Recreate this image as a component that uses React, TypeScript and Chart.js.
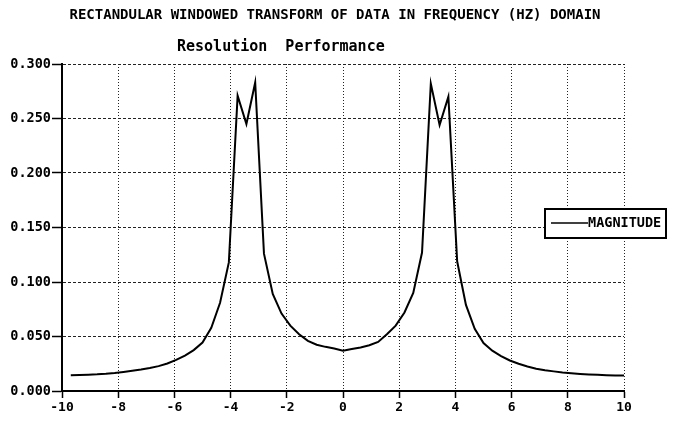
import React, { useEffect, useRef } from "react";
import { Chart, registerables } from "chart.js";

Chart.register(...registerables);

const chartTitle = "RECTANDULAR WINDOWED TRANSFORM OF DATA IN FREQUENCY (HZ) DOMAIN";
const chartSubtitle = "Resolution  Performance";
const seriesLabel = "MAGNITUDE";

const frequencies: number[] = [
  -9.6875, -9.375, -9.0625, -8.75, -8.4375, -8.125, -7.8125, -7.5, -7.1875, -6.875,
  -6.5625, -6.25, -5.9375, -5.625, -5.3125, -5, -4.6875, -4.375, -4.0625, -3.75,
  -3.4375, -3.125, -2.8125, -2.5, -2.1875, -1.875, -1.5625, -1.25, -0.9375, -0.625,
  -0.3125, 0, 0.3125, 0.625, 0.9375, 1.25, 1.5625, 1.875, 2.1875, 2.5,
  2.8125, 3.125, 3.4375, 3.75, 4.0625, 4.375, 4.6875, 5, 5.3125, 5.625,
  5.9375, 6.25, 6.5625, 6.875, 7.1875, 7.5, 7.8125, 8.125, 8.4375, 8.75,
  9.0625, 9.375, 9.6875, 10,
];

const magnitudes: number[] = [
  0.0145, 0.0147, 0.015, 0.0153, 0.0158, 0.0165, 0.0175, 0.0186, 0.0198, 0.0212,
  0.0228, 0.0252, 0.0285, 0.0325, 0.0375, 0.0445, 0.058, 0.081, 0.118, 0.271,
  0.245, 0.283, 0.126, 0.089, 0.071, 0.06, 0.052, 0.046, 0.0425, 0.0405,
  0.039, 0.037, 0.0385, 0.04, 0.042, 0.045, 0.052, 0.06, 0.072, 0.09,
  0.127, 0.282, 0.244, 0.27, 0.119, 0.079, 0.057, 0.044, 0.037, 0.032,
  0.028, 0.025, 0.0225, 0.0205, 0.019, 0.018, 0.017, 0.0163, 0.0157, 0.0152,
  0.0148, 0.0145, 0.0143, 0.0142,
];

const xTickValues: number[] = [-10, -8, -6, -4, -2, 0, 2, 4, 6, 8, 10];
const yTickValues: number[] = [0, 0.05, 0.1, 0.15, 0.2, 0.25, 0.3];
const yTickLabels: string[] = ["0.000", "0.050", "0.100", "0.150", "0.200", "0.250", "0.300"];

const MONO = "'DejaVu Sans Mono', 'Liberation Mono', monospace";

const annotatePlugin = {
  id: "annotate",
  afterDraw(chart: any) {
    const ctx = chart.ctx as CanvasRenderingContext2D;
    ctx.save();
    ctx.fillStyle = "#000";
    ctx.textBaseline = "middle";
    ctx.font = `bold 14px ${MONO}`;
    ctx.textAlign = "center";
    ctx.fillText(chartTitle, 335, 15);
    ctx.font = `bold 15px ${MONO}`;
    ctx.textAlign = "left";
    ctx.fillText(chartSubtitle, 177, 47);

    // legend box
    const bx = 545, by = 209, bw = 121, bh = 29;
    ctx.fillStyle = "#fff";
    ctx.fillRect(bx, by, bw, bh);
    ctx.lineWidth = 2;
    ctx.strokeStyle = "#000";
    ctx.strokeRect(bx, by, bw, bh);
    ctx.lineWidth = 1.5;
    ctx.beginPath();
    ctx.moveTo(bx + 6, by + 14);
    ctx.lineTo(bx + 43, by + 14);
    ctx.stroke();
    ctx.fillStyle = "#000";
    ctx.font = `bold 13.5px ${MONO}`;
    ctx.textAlign = "left";
    ctx.fillText(seriesLabel, bx + 43, by + 14.5);
    ctx.restore();
  },
};

export default function App() {
  const canvasRef = useRef<HTMLCanvasElement | null>(null);

  useEffect(() => {
    if (!canvasRef.current) return;
    const chart = new Chart(canvasRef.current, {
      type: "line",
      data: {
        datasets: [
          {
            label: seriesLabel,
            data: frequencies.map((f, i) => ({ x: f, y: magnitudes[i] })),
            borderColor: "#000",
            borderWidth: 2,
            pointRadius: 0,
            tension: 0,
            fill: false,
          },
        ],
      },
      options: {
        animation: false,
        responsive: true,
        maintainAspectRatio: false,
        layout: { padding: { top: 64, right: 49, left: 0, bottom: 0 } },
        plugins: {
          legend: { display: false },
          title: { display: false },
          tooltip: { enabled: false },
        },
        scales: {
          x: {
            type: "linear",
            min: -10,
            max: 10,
            afterBuildTicks: (scale: any) => {
              scale.ticks = xTickValues.map((v) => ({ value: v }));
            },
            afterFit: (scale: any) => {
              scale.height = 39;
            },
            ticks: {
              color: "#000",
              font: { family: MONO, size: 13, weight: "bold" },
              padding: 2,
              maxRotation: 0,
              callback: (v: any) => String(v),
            },
            grid: {
              color: "#222",
              lineWidth: 1,
              tickLength: 7,
              tickColor: "#000",
              tickWidth: 1.5,
            },
            border: { display: true, color: "#000", width: 2, dash: [1, 2] },
          },
          y: {
            min: 0,
            max: 0.3,
            afterBuildTicks: (scale: any) => {
              scale.ticks = yTickValues.map((v) => ({ value: v }));
            },
            afterFit: (scale: any) => {
              scale.width = 62;
            },
            ticks: {
              color: "#000",
              font: { family: MONO, size: 13.5, weight: "bold" },
              padding: 1,
              callback: (v: any) => {
                const idx = yTickValues.findIndex((t) => Math.abs(t - Number(v)) < 1e-9);
                return idx >= 0 ? yTickLabels[idx] : "";
              },
            },
            grid: {
              color: "#222",
              lineWidth: 1,
              tickLength: 10,
              tickColor: "#000",
              tickWidth: 1.5,
            },
            border: { display: true, color: "#000", width: 2, dash: [3, 2] },
          },
        },
      },
      plugins: [annotatePlugin],
    });
    return () => chart.destroy();
  }, []);

  return (
    <div style={{ position: "fixed", left: 0, top: 0, width: 673, height: 430, background: "#fff" }}>
      <canvas ref={canvasRef} />
    </div>
  );
}
